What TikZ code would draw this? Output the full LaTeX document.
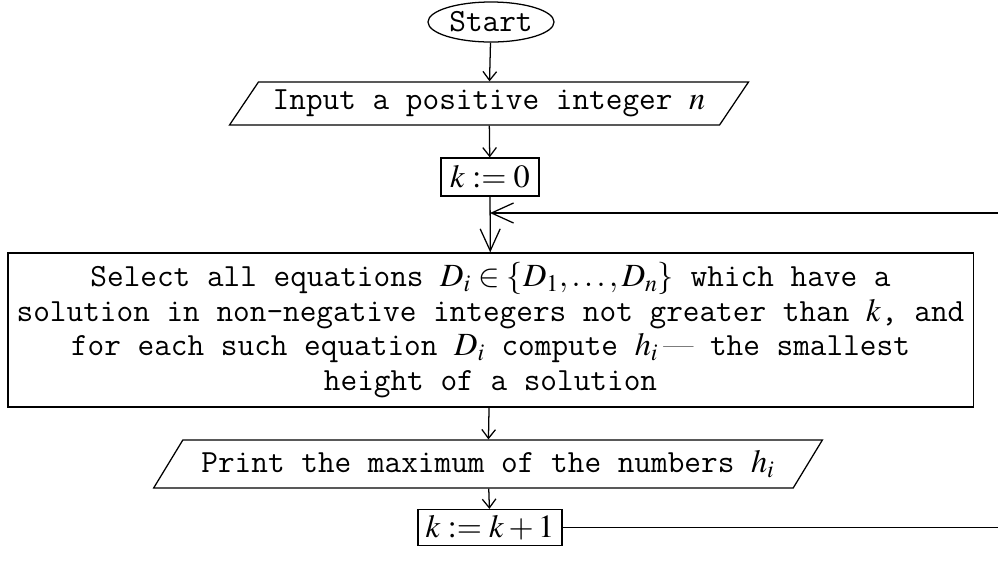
\documentclass[tikz,border=0pt]{standalone}
\usepackage{mathptmx}
\usepackage[no-math]{fontspec}
\setmonofont{Latin Modern Mono}
\usetikzlibrary{arrows.meta,positioning,shapes.geometric}
\newcommand{\flowfont}{\fontsize{23}{24.6}\selectfont\lineskiplimit=-20pt\ttfamily}

\begin{document}
\begin{tikzpicture}[x=0.025cm, y=-0.025cm, line width=0.9pt,
  every node/.style={font=\flowfont},
  term/.style={ellipse, draw, minimum width=3.15cm, minimum height=1cm, inner sep=0pt},
  io/.style={trapezium, trapezium left angle=50, trapezium right angle=130,
    trapezium stretches=true, draw, inner sep=2pt},
  proc/.style={rectangle, draw, align=center, inner sep=3pt},
  small/.style={-{Straight Barb[length=2.2mm,width=3.4mm]}},
  big/.style={-{Straight Barb[length=5.5mm,width=5mm]}}]
\useasboundingbox (0,0) rectangle (998,562);
% nodes
\node[term] (start) at (491,22) {Start};
\node[io, minimum width=13.03cm, minimum height=1.075cm] (input) at (489,103.5) {Input a positive integer $n$};
\node[proc, minimum width=2.45cm, minimum height=0.95cm] (zero) at (490,177) {$k := 0$};
\node[proc, minimum width=24.125cm, minimum height=3.85cm] (select) at (490.5,330)
  {Select all equations $D_i \in \{D_1,\dots,D_n\}$ which have a\\
   solution in non-negative integers not greater than $k$, and\\
   for each such equation $D_i$ compute $h_i$\,{\rmfamily—} the smallest\\
   height of a solution};
\node[io, minimum width=16.75cm, minimum height=1.2cm] (print) at (488,464) {Print the maximum of the numbers $h_i$};
\node[proc, minimum width=3.6cm, minimum height=0.9cm] (next) at (490,527.5) {$k := k+1$};
\coordinate (join) at (490,213);
\coordinate (back) at (1006,0);
% arrows
\draw[small] (start) -- (input);
\draw[small] (input) -- (zero);
\draw[big] (zero) -- (select);
\draw[small] (select) -- (print);
\draw[small] (print) -- (next);
\draw[big] (next.east) -- (next.east -| back) |- (join);
\end{tikzpicture}
\end{document}
